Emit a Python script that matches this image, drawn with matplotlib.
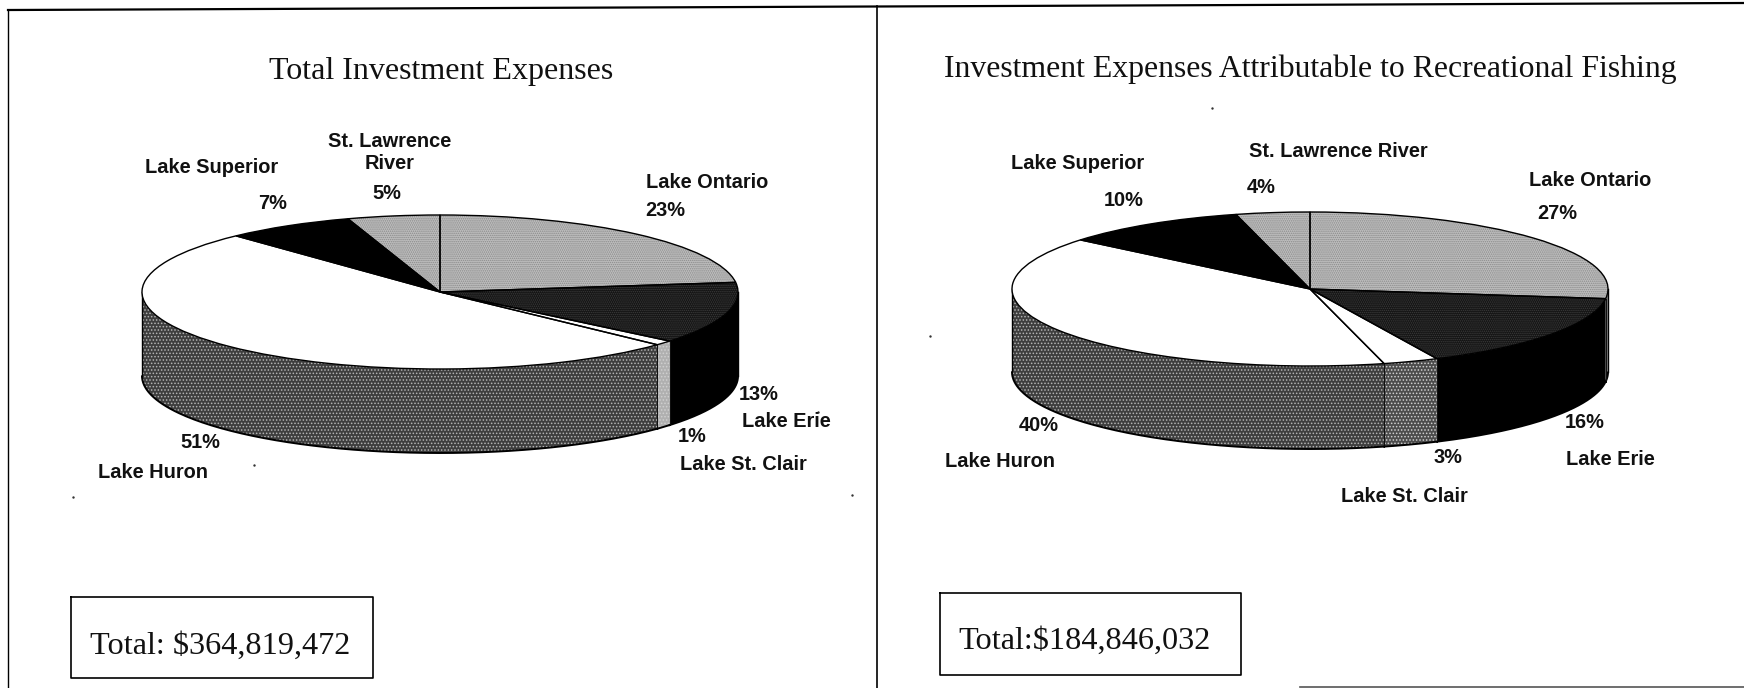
import numpy as np
import matplotlib
matplotlib.use("Agg")
import matplotlib.pyplot as plt

W, H = 1744, 688
S = 1744 / 1568

lakes = ["Lake Ontario", "Lake Erie", "Lake St. Clair", "Lake Huron", "Lake Superior", "St. Lawrence River"]
total_share = [23, 13, 1, 51, 7, 5]
fishing_share = [27, 16, 3, 40, 10, 4]
titles = ["Total Investment Expenses", "Investment Expenses Attributable to Recreational Fishing"]
totals = ["Total: $364,819,472", "Total:$184,846,032"]

top_face = ["#bdbdbd", "#141414", "#ffffff", "#ffffff", "#000000", "#bdbdbd"]
top_hatch = ["#8a8a8a", "#3c3c3c", None, None, None, "#8a8a8a"]
side_face_left = ["#888888", "#000000", "#b0b0b0", "#3e3e3e", "#000000", "#888888"]
side_face_right = ["#888888", "#000000", "#4c4c4c", "#3e3e3e", "#000000", "#888888"]
side_hatch = [None, None, "#d0d0d0", "#b4b4b4", None, None]

plt.rcParams["hatch.linewidth"] = 0.7
fig = plt.figure(figsize=(W / 100, H / 100), dpi=100, facecolor="white")


def draw_pie(values, side_face, cx, cy, rx, ry, depth):
    ax = fig.add_axes([(cx - rx) / W, 1 - (cy + ry + depth) / H, 2 * rx / W, (2 * ry + depth) / H])
    d = depth / ry
    ang = 90 - np.cumsum([0] + list(values)) * 3.6
    for i in range(len(values)):
        a0, a1 = ang[i], ang[i + 1]
        t = np.radians(np.linspace(a0, a1, 200))
        mask = np.sin(t) <= 0
        if mask.sum() < 2:
            continue
        x, y = np.cos(t[mask]), np.sin(t[mask])
        ax.fill_between(x, y - d, y, facecolor=side_face[i], linewidth=0, zorder=1)
        if side_hatch[i]:
            ax.fill_between(x, y - d, y, facecolor="none", edgecolor=side_hatch[i],
                            hatch=".....", linewidth=0, zorder=1.5)
        ax.plot([x[0], x[0]], [y[0] - d, y[0]], color="#111111", lw=0.7, zorder=2)
        ax.plot([x[-1], x[-1]], [y[-1] - d, y[-1]], color="#111111", lw=0.7, zorder=2)
        ax.plot(x, y - d, color="black", lw=1.4, zorder=2)
    wedges, _ = ax.pie(values, colors=top_face, startangle=90, counterclock=False, radius=1,
                       wedgeprops=dict(linewidth=0, zorder=3))
    for w, hc in zip(wedges, top_hatch):
        if hc:
            w.set_edgecolor(hc)
            w.set_hatch("........")
    ax.pie(values, colors=["none"] * len(values), startangle=90, counterclock=False, radius=1,
           wedgeprops=dict(linewidth=1.0, edgecolor="black", zorder=4))
    ax.plot([-1, -1], [0, -d], color="black", lw=1.0, zorder=2)
    ax.plot([1, 1], [0, -d], color="black", lw=1.0, zorder=2)
    ax.set_aspect("auto")
    ax.set_xlim(-1, 1)
    ax.set_ylim(-1 - d, 1)
    ax.axis("off")
    for a in ax.get_children():
        a.set_clip_on(False)


draw_pie(total_share, side_face_left, 440, 292, 298, 77, 84)
draw_pie(fishing_share, side_face_right, 1310, 289, 298, 77, 83)


def txt(x, y, s, **kw):
    fig.text(x * S / W, 1 - (y + 2) * S / H, s, ha="center", va="center", **kw)


sans = dict(family="Liberation Sans", fontweight="bold", fontsize=14.4, color="#111111")
serif = dict(family="Liberation Serif", color="#111111")

left_labels = [(636, 162, lakes[0]), (707, 377, lakes[1]), (668, 416, lakes[2]), (138, 423, lakes[3]),
               (190, 149, lakes[4]), (350, 135, "St. Lawrence\nRiver")]
left_pct = [(598, 187), (682, 353), (622, 390), (180, 396), (245, 181), (348, 172)]
right_labels = [(1430, 160, lakes[0]), (1448, 411, lakes[1]), (1263, 444, lakes[2]), (899, 413, lakes[3]),
                (969, 145, lakes[4]), (1203, 134, lakes[5])]
right_pct = [(1400, 190), (1425, 378), (1302, 409), (934, 381), (1010, 178), (1134, 167)]

for labs, pcts, vals in [(left_labels, left_pct, total_share), (right_labels, right_pct, fishing_share)]:
    for (x, y, s), (px, py), v in zip(labs, pcts, vals):
        txt(x, y, s, linespacing=1.15, **sans)
        txt(px, py, f"{v}%", **sans)

txt(397, 62, titles[0], fontsize=23, **serif)
txt(1178, 60, titles[1], fontsize=22.9, **serif)
txt(198, 579, totals[0], fontsize=23.2, **serif)
txt(975, 575, totals[1], fontsize=23.2, **serif)

bg = fig.add_axes([0, 0, 1, 1], zorder=-1)
bg.set_xlim(0, W)
bg.set_ylim(H, 0)
bg.axis("off")
for x0, y0, x1, y1 in [(64, 537, 335, 610), (845, 533, 1116, 607)]:
    bg.plot(np.array([x0, x1, x1, x0, x0]) * S, np.array([y0, y0, y1, y1, y0]) * S, color="black", lw=1.2)
bg.plot([8, 8], [10, H], color="black", lw=1.0)
bg.plot([877, 877], [6, H], color="black", lw=1.2)
bg.plot([8, W], [10, 3], color="black", lw=1.6)
bg.plot([1300, W], [686.5, 686.5], color="#555555", lw=1.2)

specks = [(1090, 97), (766, 445), (66, 447), (836, 302), (228, 418), (735, 370)]
bg.scatter([p[0] * S for p in specks], [p[1] * S for p in specks], s=3, color="#333333", linewidths=0)

fig.savefig("out.png", dpi=100)
